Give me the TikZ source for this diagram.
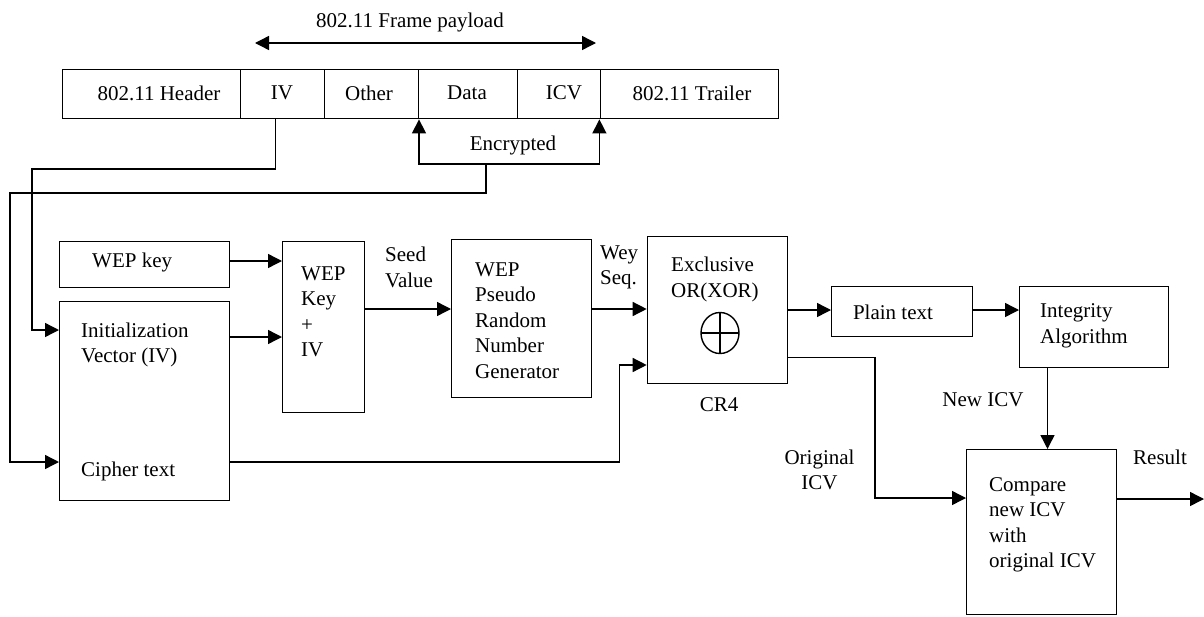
\documentclass[tikz,border=0pt]{standalone}
\usepackage{fontspec}
\setmainfont{Liberation Serif}
\usetikzlibrary{arrows.meta}
\begin{document}
\begin{tikzpicture}[x=1pt,y=-1pt,
  lw/.style={line width=1.4pt},
  box/.style={draw, lw, inner sep=0pt, anchor=north west},
  arr/.style={lw, -{Triangle[length=14pt,width=14pt]}},
  darr/.style={lw, {Triangle[length=14pt,width=14pt]}-{Triangle[length=14pt,width=14pt]}},
  txt/.style={inner sep=0pt, font=\fontsize{21}{25.5}\selectfont, align=left},
  ctxt/.style={inner sep=0pt, font=\fontsize{21}{25.5}\selectfont, align=center}]
\useasboundingbox (0,0) rectangle (1204,616);

% frame cells
\node[box, minimum width=178pt, minimum height=49pt] (hdr) at (62,69) {};
\node[box, minimum width=84pt, minimum height=49pt] (iv) at (240,69) {};
\node[box, minimum width=94pt, minimum height=49pt] (oth) at (324,69) {};
\node[box, minimum width=99pt, minimum height=49pt] (dat) at (418,69) {};
\node[box, minimum width=83pt, minimum height=49pt] (icv) at (517,69) {};
\node[box, minimum width=178pt, minimum height=49pt] (trl) at (600,69) {};
\node[ctxt] (thdr) at (159,93) {802.11 Header};
\node[ctxt] (tiv) at (282,93) {IV};
\node[ctxt] (toth) at (369,93) {Other};
\node[ctxt] (tdat) at (467,93) {Data};
\node[ctxt] (ticv) at (564,93) {ICV};
\node[ctxt] (ttrl) at (692,93) {802.11 Trailer};

% payload arrow
\node[ctxt] (payload) at (410,22) {802.11 Frame payload};
\coordinate (pl) at (255,43);
\coordinate (pr) at (596,43);
\draw[darr] (pl) -- (pr);

% encrypted
\coordinate (enc) at (486,164);
\node[ctxt] (tenc) at (513,145) {Encrypted};
\draw[arr] (enc) -| ([xshift=1pt]dat.south west);
\draw[arr] (enc) -| ([xshift=-2pt]icv.south east);

% boxes
\node[box, minimum width=170pt, minimum height=46pt] (wepkey) at (59,240.7) {};
\node[box, minimum width=170pt, minimum height=199.3pt] (ivbox) at (59,300.7) {};
\node[box, minimum width=81.5pt, minimum height=171.3pt] (wepplus) at (282,240.7) {};
\node[box, minimum width=140pt, minimum height=158pt] (prng) at (451,239) {};
\node[box, minimum width=140.3pt, minimum height=147pt] (xor) at (646.7,236) {};
\node[box, minimum width=140.5pt, minimum height=50pt] (plain) at (831,285.7) {};
\node[box, minimum width=149pt, minimum height=81.3pt] (integ) at (1019,285.7) {};
\node[box, minimum width=149.6pt, minimum height=165pt] (cmp) at (966,449) {};

% texts
\node[txt, anchor=west] (twepkey) at (92,262) {WEP key};
\node[txt, anchor=west] (tinit) at (81,345) {Initialization\\Vector (IV)};
\node[txt, anchor=west] (tcipher) at (81,471) {Cipher text};
\node[txt, anchor=west] (twepplus) at (301,312) {WEP\\Key\\+\\IV};
\node[txt, anchor=west] (tseed) at (385,267.5) {Seed\\Value};
\node[txt, anchor=west] (tprng) at (475,320.5) {WEP\\Pseudo\\Random\\Number\\Generator};
\node[txt, anchor=west] (twey) at (600,267.5) {Wey\\Seq.};
\node[txt, anchor=west] (txor) at (671,279.5) {Exclusive\\OR(XOR)};
\node[ctxt] (tcr) at (719,405) {CR4};
\node[ctxt] (tplain) at (893,312) {Plain text};
\node[txt, anchor=west] (tinteg) at (1040,326) {Integrity\\Algorithm};
\node[ctxt] (tnew) at (983,400) {New ICV};
\node[ctxt] (torig) at (819.5,470) {Original\\ICV};
\node[txt, anchor=west] (tcmp) at (989,525) {Compare\\new ICV\\with\\original ICV};
\node[ctxt] (tres) at (1160,457) {Result};

% xor symbol
\draw[lw] (720,333) ellipse [x radius=19, y radius=20.5];
\draw[lw] (701,333) -- (739,333);
\draw[lw] (720,312.5) -- (720,353.5);

% connectors
\draw[arr] ([xshift=-7.5pt]iv.south) |- (32,169) |- (ivbox.west |- 0,330);
\draw[arr] (enc) |- (10,193) |- (ivbox.west |- 0,462);
\draw[arr] (wepkey.east |- 0,261) -- (wepplus.west |- 0,261);
\draw[arr] (ivbox.east |- 0,337) -- (wepplus.west |- 0,337);
\draw[arr] (wepplus.east |- 0,309) -- (prng.west |- 0,309);
\draw[arr] (prng.east |- 0,309) -- (xor.west |- 0,309);
\draw[arr] (ivbox.east |- 0,462) -| (619.5,365) -- (xor.west |- 0,365);
\draw[arr] (xor.east |- 0,310) -- (plain.west |- 0,310);
\draw[arr] (plain.east |- 0,310) -- (integ.west |- 0,310);
\draw[arr] (integ.south -| 1047.5,0) -- (cmp.north -| 1047.5,0);
\draw[arr] (xor.east |- 0,357.7) -| (875,498) -- (cmp.west |- 0,498);
\coordinate (out) at (1204,499);
\draw[arr] (cmp.east |- out) -- (out);
\end{tikzpicture}
\end{document}
